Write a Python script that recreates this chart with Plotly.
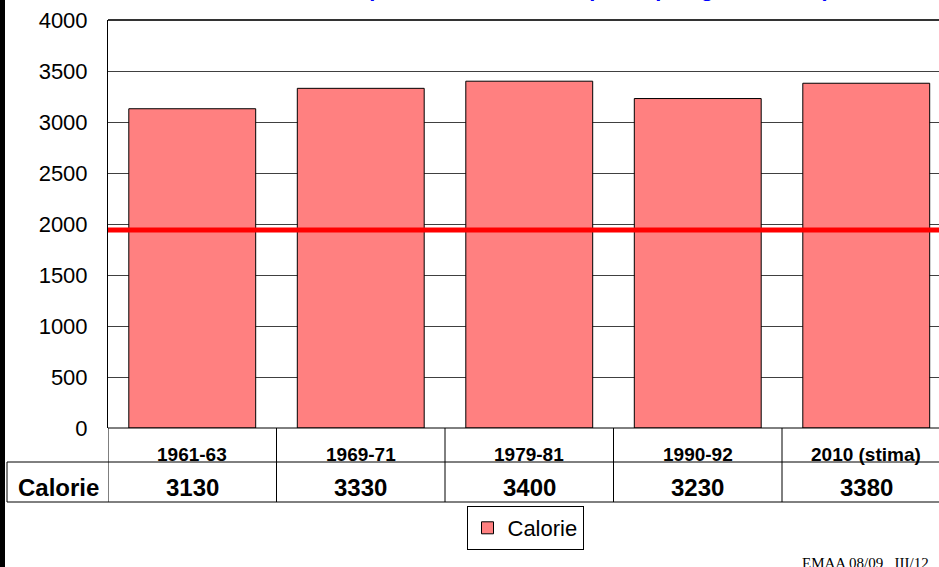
import plotly.graph_objects as go

categories = ["1961-63", "1969-71", "1979-81", "1990-92", "2010 (stima)"]
calorie = [3130, 3330, 3400, 3230, 3380]
series_name = "Calorie"
threshold = 1940
y_ticks = [0, 500, 1000, 1500, 2000, 2500, 3000, 3500, 4000]
title_text = "Disponibilità alimentare pro capite giornaliera (calorie, Italia, FAO)"
footer_text = "EMAA 08/09   III/12"

W, H = 939, 567
L, T, B = 108, 20, 428  # plot area pixel bounds
PW, PH = W - L, B - T
cat_w = 168.5
x_end = -0.5 + PW / cat_w


def xp(px):
    return (px - L) / PW


def yp(py):
    return (B - py) / PH


FONT = "Liberation Sans, Arial, sans-serif"

fig = go.Figure()
fig.add_trace(go.Bar(
    x=categories, y=calorie, name=series_name,
    marker=dict(color="#FF8080", line=dict(color="black", width=1)),
    showlegend=True,
))

shapes = []
# threshold line
shapes.append(dict(type="line", xref="paper", yref="y", x0=0, x1=1,
                   y0=threshold, y1=threshold, line=dict(color="#FF0000", width=5), layer="above"))
# top border
shapes.append(dict(type="line", xref="paper", yref="paper", x0=0, x1=1, y0=1, y1=1,
                   line=dict(color="#333333", width=2)))
# table horizontal lines
for py, x0 in [(428, 0), (462, xp(7)), (502, xp(7))]:
    shapes.append(dict(type="line", xref="paper", yref="paper", x0=x0, x1=1,
                       y0=yp(py), y1=yp(py), line=dict(color="black", width=1)))
# table vertical lines at category boundaries
for i in range(len(categories)):
    shapes.append(dict(type="line", xref="x", yref="paper", x0=i - 0.5, x1=i - 0.5,
                       y0=yp(502), y1=yp(428), line=dict(color="black", width=1)))
shapes.append(dict(type="line", xref="paper", yref="paper", x0=xp(7), x1=xp(7),
                   y0=yp(502), y1=yp(462), line=dict(color="black", width=1)))
# left black slide edge
shapes.append(dict(type="rect", xref="paper", yref="paper", x0=xp(0), x1=xp(5),
                   y0=yp(H), y1=yp(0), fillcolor="black", line=dict(width=0)))

annotations = []
for c, v in zip(categories, calorie):
    annotations.append(dict(x=c, xref="x", y=yp(454), yref="paper", text=f"<b>{c}</b>",
                            showarrow=False, font=dict(size=19, color="black", family=FONT),
                            xanchor="center", yanchor="middle"))
    annotations.append(dict(x=c, xref="x", y=yp(487), yref="paper", text=f"<b>{v}</b>",
                            showarrow=False, font=dict(size=24, color="black", family=FONT),
                            xanchor="center", yanchor="middle"))
annotations.append(dict(x=xp(58), xref="paper", y=yp(487), yref="paper", text=f"<b>{series_name}</b>",
                        showarrow=False, font=dict(size=24, color="black", family=FONT),
                        xanchor="center", yanchor="middle"))
annotations.append(dict(x=xp(800), xref="paper", y=yp(553), yref="paper", text=footer_text,
                        showarrow=False, font=dict(size=15, color="black", family="Liberation Serif, Times New Roman, serif"),
                        xanchor="left", yanchor="top"))
annotations.append(dict(x=xp(680), xref="paper", y=yp(3), yref="paper", text=f"<b>{title_text}</b>",
                        showarrow=False, font=dict(size=22, color="#0000FF", family=FONT),
                        xanchor="center", yanchor="bottom"))

fig.update_layout(
    width=W, height=H,
    margin=dict(l=L, r=0, t=T, b=H - B, pad=0),
    paper_bgcolor="white", plot_bgcolor="white",
    bargap=0.247,
    font=dict(family=FONT, color="black"),
    xaxis=dict(type="category", range=[-0.5, x_end], showticklabels=False, showgrid=False,
               showline=False, zeroline=False, ticks=""),
    yaxis=dict(range=[0, 4000], tickvals=y_ticks, ticktext=[str(t) for t in y_ticks],
               showgrid=True, gridcolor="#404040", gridwidth=1,
               showline=True, linecolor="black", linewidth=1, zeroline=False,
               ticks="", tickfont=dict(size=22, family=FONT, color="black"), ticklabelstandoff=15),
    legend=dict(x=xp(525), y=yp(528), xanchor="center", yanchor="middle", bordercolor="black",
                borderwidth=1, bgcolor="white", font=dict(size=22, family=FONT, color="black"),
                itemwidth=30, tracegroupgap=0),
    shapes=shapes,
    annotations=annotations,
)

fig.write_html("out.html", config={"displayModeBar": False},
               post_script="document.body.style.margin='0';document.body.style.overflow='hidden';")
